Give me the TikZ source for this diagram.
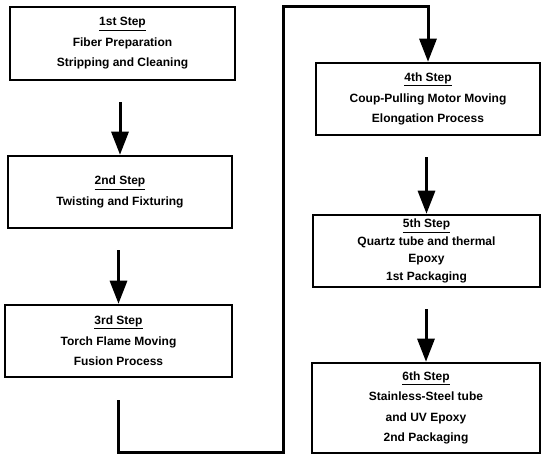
\documentclass[tikz,border=0pt]{standalone}
\usepackage{fontspec}
\setmainfont{Liberation Sans}
\usetikzlibrary{arrows.meta}

\begin{document}
\begin{tikzpicture}[x=1pt, y=-1pt,
    stepbox/.style={rectangle, draw=black, line width=2.5pt, align=center, inner sep=0pt,
        font=\bfseries\fontsize{12}{20.5}\selectfont},
    flow/.style={-{Triangle[width=17pt, length=23pt]}, line width=3pt, shorten <=21pt}]
    \useasboundingbox (0,0) rectangle (547,457);

    % Left column
    \node[stepbox, minimum width=225pt, minimum height=73pt] (step1) at (122.5,43.5)
        {\underline{1st Step}\\Fiber Preparation\\Stripping and Cleaning};
    \node[stepbox, minimum width=224pt, minimum height=72pt] (step2) at (120,192)
        {\underline{2nd Step}\\Twisting and Fixturing};
    \node[stepbox, minimum width=227pt, minimum height=72pt] (step3) at (118.5,341)
        {\underline{3rd Step}\\Torch Flame Moving\\Fusion Process};

    \draw[flow] (step2.north |- step1.south) -- (step2.north);
    \draw[flow] (step3.north |- step2.south) -- (step3.north);

    % Right column
    \node[stepbox, minimum width=224pt, minimum height=72pt] (step4) at (428,99)
        {\underline{4th Step}\\Coup-Pulling Motor Moving\\Elongation Process};
    \node[stepbox, minimum width=227pt, minimum height=72pt,
        font=\bfseries\fontsize{12}{17.5}\selectfont] (step5) at (426.5,251)
        {\underline{5th Step}\\Quartz tube and thermal\\Epoxy\\1st Packaging};
    \node[stepbox, minimum width=228pt, minimum height=90pt] (step6) at (426,408)
        {\underline{6th Step}\\Stainless-Steel tube\\and UV Epoxy\\2nd Packaging};

    \draw[flow] (step5.north |- step4.south) -- (step5.north);
    \draw[flow] (step6.north |- step5.south) -- (step6.north);

    % Link from 3rd to 4th step
    \coordinate (lowturn) at (283,453);
    \coordinate (highturn) at (283,7);
    \draw[flow, shorten <=22pt] (step3.south) -- (step3.south |- lowturn) -- (lowturn)
        -- (highturn) -- (step4.north |- highturn) -- (step4.north);
\end{tikzpicture}
\end{document}
